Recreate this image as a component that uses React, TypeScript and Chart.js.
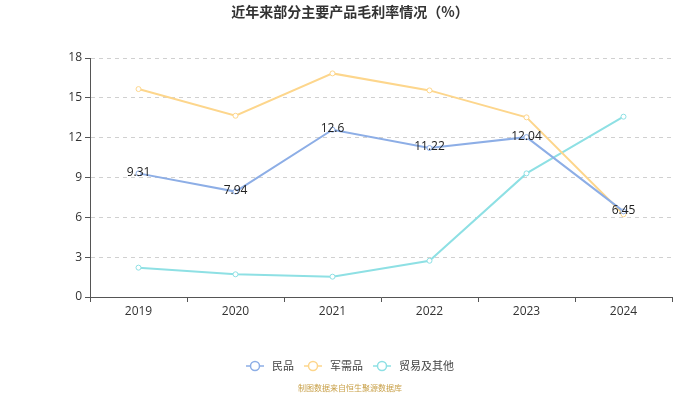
import React, { useEffect, useRef } from "react";
import { Chart, registerables } from "chart.js";

Chart.register(...registerables);

const categories = ["2019", "2020", "2021", "2022", "2023", "2024"];
const civilian = [9.31, 7.94, 12.6, 11.22, 12.04, 6.45];
const military = [15.66, 13.65, 16.84, 15.56, 13.53, 6.23];
const tradeOther = [2.21, 1.71, 1.53, 2.73, 9.31, 13.58];
const yTicks = [0, 3, 6, 9, 12, 15, 18];
const seriesNames = ["民品", "军需品", "贸易及其他"];
const seriesColors = ["#8daee6", "#fdd68c", "#8ee0e4"];
const titleText = "近年来部分主要产品毛利率情况（%）";
const footerText = "制图数据来自恒生聚源数据库";

const FONT = '"Open Sans", "Noto Sans CJK SC", sans-serif';
const CJK = '"Noto Sans CJK SC", sans-serif';

const overlayPlugin = {
  id: "overlay",
  afterDatasetsDraw(chart: any) {
    const ctx = chart.ctx;
    const meta = chart.getDatasetMeta(0);
    ctx.save();
    ctx.font = `12px ${FONT}`;
    ctx.fillStyle = "#222";
    ctx.textAlign = "center";
    ctx.textBaseline = "middle";
    meta.data.forEach((pt: any, i: number) => {
      ctx.fillText(String(civilian[i]), pt.x, pt.y - 1);
    });
    ctx.restore();
  },
  afterDraw(chart: any) {
    const ctx = chart.ctx;
    ctx.save();
    // title
    ctx.font = `bold 14px ${CJK}`;
    ctx.fillStyle = "#333";
    ctx.textAlign = "center";
    ctx.textBaseline = "middle";
    ctx.fillText(titleText, chart.width / 2, 12);
    // legend
    ctx.font = `11px ${CJK}`;
    const iconW = 18;
    const gapIconText = 8;
    const gapItems = 10;
    const widths = seriesNames.map((n) => iconW + gapIconText + ctx.measureText(n).width);
    const total = widths.reduce((a, b) => a + b, 0) + gapItems * (seriesNames.length - 1);
    let x = chart.width / 2 - total / 2;
    const y = 366;
    seriesNames.forEach((name, i) => {
      ctx.strokeStyle = seriesColors[i];
      ctx.lineWidth = 1.5;
      ctx.beginPath();
      ctx.moveTo(x, y);
      ctx.lineTo(x + iconW, y);
      ctx.stroke();
      ctx.beginPath();
      ctx.arc(x + iconW / 2, y, 4.5, 0, Math.PI * 2);
      ctx.fillStyle = "#fff";
      ctx.fill();
      ctx.stroke();
      ctx.fillStyle = "#444";
      ctx.textAlign = "left";
      ctx.textBaseline = "middle";
      ctx.fillText(name, x + iconW + gapIconText, y);
      x += widths[i] + gapItems;
    });
    // footer
    ctx.font = `8px ${CJK}`;
    ctx.fillStyle = "#c8a048";
    ctx.textAlign = "center";
    ctx.fillText(footerText, chart.width / 2, 388);
    ctx.restore();
  },
};

export default function App() {
  const ref = useRef<HTMLCanvasElement>(null);
  useEffect(() => {
    if (!ref.current) return;
    const mk = (label: string, data: number[], color: string) => ({
      label,
      data,
      borderColor: color,
      backgroundColor: "#fff",
      borderWidth: 2,
      pointRadius: 2.5,
      pointBorderWidth: 1,
      pointBackgroundColor: "#fff",
      pointBorderColor: color,
      tension: 0,
    });
    const chart = new Chart(ref.current, {
      type: "line",
      data: {
        labels: categories,
        datasets: [
          mk(seriesNames[0], civilian, seriesColors[0]),
          mk(seriesNames[1], military, seriesColors[1]),
          mk(seriesNames[2], tradeOther, seriesColors[2]),
        ],
      },
      options: {
        animation: false,
        responsive: false,
        devicePixelRatio: 1,
        layout: { padding: { left: 0, right: 28, top: 58, bottom: 67 } },
        plugins: {
          legend: { display: false },
          tooltip: { enabled: false },
          title: { display: false },
        },
        scales: {
          x: {
            offset: true,
            grid: {
              offset: true,
              drawOnChartArea: false,
              drawTicks: true,
              tickLength: 5,
              tickColor: "#555",
            },
            border: { display: true, color: "#555", width: 1 },
            ticks: { color: "#333", font: { size: 12, family: FONT }, padding: 2, maxRotation: 0 },
            afterFit: (s: any) => { s.height = 30; },
          },
          y: {
            min: 0,
            max: 18,
            afterBuildTicks: (s: any) => { s.ticks = yTicks.map((v) => ({ value: v })); },
            grid: {
              color: "#d0d0d0",
              drawTicks: true,
              tickLength: 5,
              tickColor: "#555",
              tickBorderDash: [],
            },
            border: { display: true, color: "#555", width: 1, dash: [4, 4] },
            ticks: { color: "#333", font: { size: 12, family: FONT }, padding: 3 },
            afterFit: (s: any) => { s.width = 90; },
          },
        },
      },
      plugins: [overlayPlugin],
    });
    return () => chart.destroy();
  }, []);
  return (
    <div style={{ position: "fixed", left: 0, top: 0, width: 700, height: 394, background: "#fff" }}>
      <canvas ref={ref} width={700} height={394} style={{ width: 700, height: 394 }} />
    </div>
  );
}
